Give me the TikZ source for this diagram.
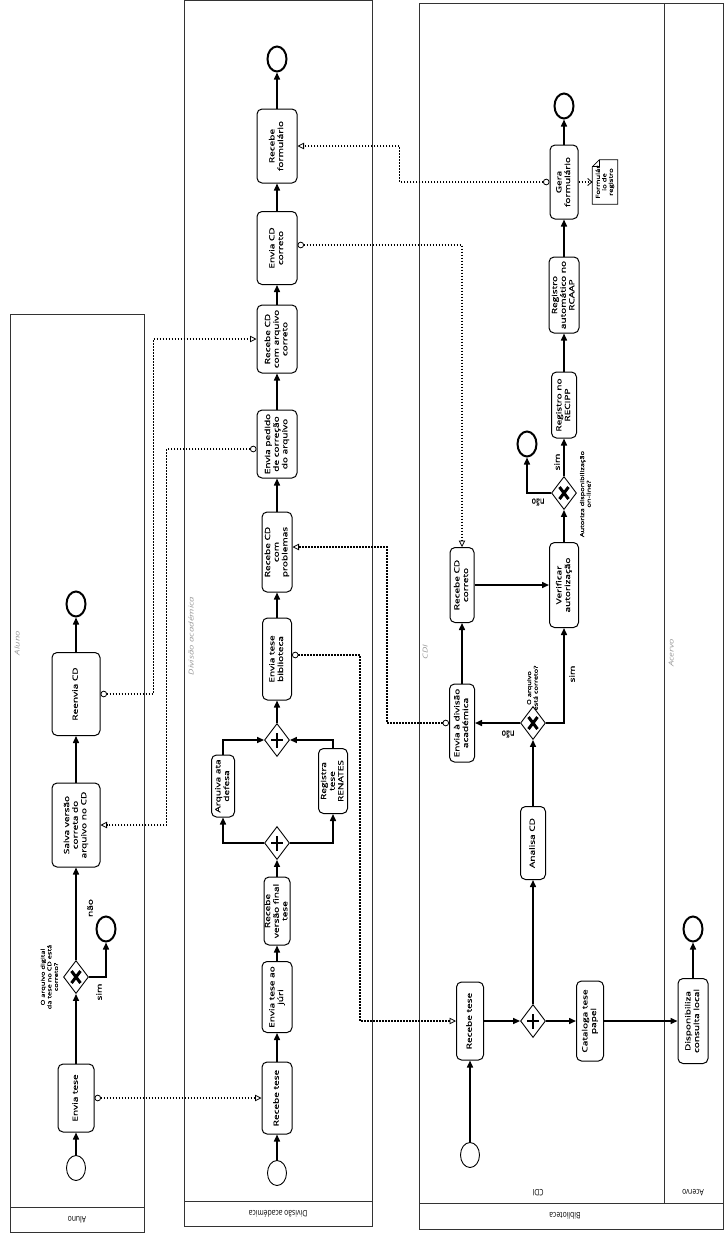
\documentclass[tikz,border=0pt]{standalone}
\usepackage{fontspec}
\setmainfont{Open Sans}
\newfontfamily\tkf{Open Sans}[FakeBold=0.7]
\usepackage{graphicx}
\usetikzlibrary{arrows.meta,shapes.geometric,calc}

\newcommand\tx[1]{\rotatebox{90}{\scalebox{1.4}[1]{\begin{tabular}{@{}c@{}}#1\end{tabular}}}}
\newcommand\ud[1]{\rotatebox{180}{\scalebox{1}[1.3]{#1}}}
\newcommand\gwx[1]{\draw[line width=3pt] ([shift={(-4.5pt,-6pt)}]#1.center) -- ([shift={(4.5pt,6pt)}]#1.center) ([shift={(-4.5pt,6pt)}]#1.center) -- ([shift={(4.5pt,-6pt)}]#1.center);}
\newcommand\gwp[1]{\draw[line width=2.5pt] ([xshift=-6pt]#1.center) -- ([xshift=6pt]#1.center) ([yshift=-7.5pt]#1.center) -- ([yshift=7.5pt]#1.center);}

\tikzset{
 task/.style={draw, line width=1pt, rounded corners=5pt, inner sep=0pt, fill=white, font=\tkf\fontsize{7.2}{8.6}\selectfont},
 tsk/.style 2 args={task, minimum width=#1pt, minimum height=#2pt},
 gw/.style={draw, diamond, line width=0.9pt, minimum width=25pt, minimum height=33pt, inner sep=0pt, fill=white},
 sev/.style={draw, ellipse, line width=0.9pt, minimum width=19pt, minimum height=25pt, inner sep=0pt, fill=white},
 eev/.style={sev, line width=2pt},
 seq/.style={line width=1.5pt, -{Triangle[length=7pt,width=6pt]}},
 msg/.style={line width=1.5pt, dash pattern=on 1.5pt off 1.5pt, {Circle[length=6.5pt,width=6.5pt,fill=white,line width=0.8pt]}-{Triangle[open,length=6.5pt,width=6.5pt,line width=0.8pt]}},
 assoc/.style={line width=1.5pt, dash pattern=on 1.5pt off 1.5pt, -{Straight Barb[length=4pt,width=7pt,line width=0.8pt]}},
 lbl/.style={font=\tkf\fontsize{7.2}{8.6}\selectfont, inner sep=0pt},
 glbl/.style={font=\tkf\fontsize{5.3}{6.6}\selectfont, inner sep=0pt},
 pool/.style={draw=black!80, line width=0.8pt},
 plbl/.style={font=\fontsize{6.8}{8}\selectfont, inner sep=0pt},
 ghost/.style={font=\fontsize{6.8}{8}\selectfont\itshape, text=black!40, inner sep=0pt},
}

\begin{document}
\begin{tikzpicture}[x=1pt,y=-1pt]
\useasboundingbox (0,0) rectangle (724,1235);
\fill[white] (0,0) rectangle (724,1235);

% pools
\draw[pool] (10,314) rectangle (144,1232);
\draw[pool] (10,1207) -- (144,1207);
\draw[pool] (184,0.5) rectangle (372,1226);
\draw[pool] (184,1201) -- (372,1201);
\draw[pool] (419,3) rectangle (723,1229);
\draw[pool] (419,1203) -- (723,1203);
\draw[pool] (664,3) -- (664,1203);

\node[plbl] (pl1) at (77,1220) {\ud{Aluno}};
\node[plbl] (pl2) at (278,1214) {\ud{Divisão académica}};
\node[plbl] (pl3) at (565,1216) {\ud{Biblioteca}};
\node[plbl] (pl4) at (538,1193) {\ud{CDI}};
\node[plbl] (pl5) at (693,1193) {\ud{Acervo}};

\node[ghost] (g1) at (18,643) {\tx{Aluno}};
\node[ghost] (g2) at (192,636) {\tx{Divisão académica}};
\node[ghost] (g3) at (426,652) {\tx{CDI}};
\node[ghost] (g4) at (672,653) {\tx{Acervo}};

% ---- Aluno
\node[sev] (as) at (76,1168) {};
\node[tsk={36}{68}] (at1) at (76,1098) {\tx{Envia tese}};
\node[gw] (ag1) at (76,977) {}; \gwx{ag1}
\node[eev] (ae1) at (106,929) {};
\node[tsk={48}{84}] (at2) at (76,825) {\tx{Salva versão\\correta do\\arquivo no CD}};
\node[tsk={48}{83}] (at3) at (76,694) {\tx{Reenvia CD}};
\node[eev] (ae2) at (76,604) {};
\node[glbl] (agl) at (50,977) {\tx{O arquivo digital\\da tese no CD está\\correto?}};

% ---- Divisao academica
\node[sev] (ds) at (277,1173) {};
\node[tsk={30}{72}] (dt1) at (277,1098) {\tx{Recebe tese}};
\node[tsk={30}{71}] (dt2) at (277,997) {\tx{Envia tese ao\\júri}};
\node[tsk={26}{68}] (dt3) at (277,911) {\tx{Recebe\\versão final\\tese}};
\node[gw] (dg1) at (277,843) {}; \gwp{dg1}
\node[tsk={23}{62}] (dt4) at (223,786) {\tx{Arquiva ata\\defesa}};
\node[tsk={29}{65}] (dt5) at (333,781) {\tx{Registra\\tese\\RENATES}};
\node[gw] (dg2) at (277,740) {}; \gwp{dg2}
\node[tsk={29}{82}] (dt6) at (277,659) {\tx{Envia tese\\biblioteca}};
\node[tsk={30}{80}] (dt7) at (277,552) {\tx{Recebe CD\\com\\problemas}};
\node[tsk={40}{68}] (dt8) at (277,444) {\tx{Envia pedido\\de correção\\do arquivo}};
\node[tsk={40}{68}] (dt9) at (277,339) {\tx{Recebe CD\\com arquivo\\correto}};
\node[tsk={40}{73}] (dt10) at (277,248) {\tx{Envia CD\\correto}};
\node[tsk={40}{74}] (dt11) at (277,146) {\tx{Recebe\\formulário}};
\node[eev] (de) at (277,59) {};

% ---- Biblioteca
\node[sev] (cs) at (470,1155) {};
\node[tsk={27}{78}] (ct1) at (470,1021) {\tx{Recebe tese}};
\node[gw] (cg1) at (533,1021) {}; \gwp{cg1}
\node[tsk={25}{73}] (ct2) at (533,843) {\tx{Analisa CD}};
\node[tsk={27}{80}] (ct3) at (590,1021) {\tx{Cataloga tese\\papel}};
\node[tsk={30}{85}] (ct4) at (693,1021) {\tx{Disponibiliza\\consulta local}};
\node[eev] (ce1) at (693,929) {};
\node[gw] (cg2) at (533,723) {}; \gwx{cg2}
\node[glbl] (cgl2) at (533,688) {\tx{O arquivo\\está correto?}};
\node[tsk={25}{78}] (ct5) at (462,723) {\tx{Envia à divisão\\académica}};
\node[tsk={24}{75}] (ct6) at (462,585) {\tx{Recebe CD\\correto}};
\node[tsk={29}{85}] (ct7) at (564,585) {\tx{Verificar\\autorização}};
\node[gw] (cg3) at (564,493) {}; \gwx{cg3}
\node[glbl] (cgl3) at (586,494) {\tx{Autoriza disponibilização\\on-line?}};
\node[eev] (ce2) at (527,444) {};
\node[tsk={25}{66}] (ct8) at (564,405) {\tx{Registro no\\RECIPP}};
\node[tsk={30}{76}] (ct9) at (564,295) {\tx{Registro\\automático no\\RCAAP}};
\node[tsk={28}{74}] (ct10) at (564,182) {\tx{Gera\\formulário}};
\node[eev] (ce3) at (564,106) {};
\node[minimum width=25pt, minimum height=44pt, inner sep=0pt, font=\tkf\fontsize{5.5}{6.5}\selectfont] (data) at (605,182) {\tx{Formulár\\io de\\registro}};
\draw[line width=0.8pt] ([xshift=7pt]data.north west) -- (data.north east) -- (data.south east) -- (data.south west) -- ([yshift=-7pt]data.north west) -- cycle;
\draw[line width=0.8pt] ([xshift=7pt]data.north west) -- ([xshift=7pt,yshift=-7pt]data.north west) -- ([yshift=-7pt]data.north west);

% ---- sequence flows
\draw[seq] (as) -- (at1);
\draw[seq] (at1) -- (ag1);
\draw[seq] (ag1) -- (at2);
\draw[seq] (ag1.east) -| (ae1.south);
\draw[seq] (at2) -- (at3);
\draw[seq] (at3) -- (ae2);
\node[lbl] (lna) at (91,908) {\tx{não}};
\node[lbl] (lsa) at (100,992) {\tx{sim}};

\draw[seq] (ds) -- (dt1);
\draw[seq] (dt1) -- (dt2);
\draw[seq] (dt2) -- (dt3);
\draw[seq] (dt3) -- (dg1);
\draw[seq] (dg1.west) -| (dt4.south);
\draw[seq] (dg1.east) -| (dt5.south);
\draw[seq] (dt4.north) |- (dg2.west);
\draw[seq] (dt5.north) |- (dg2.east);
\draw[seq] (dg2) -- (dt6);
\draw[seq] (dt6) -- (dt7);
\draw[seq] (dt7) -- (dt8);
\draw[seq] (dt8) -- (dt9);
\draw[seq] (dt9) -- (dt10);
\draw[seq] (dt10) -- (dt11);
\draw[seq] (dt11) -- (de);

\draw[seq] (cs) -- (ct1);
\draw[seq] (ct1) -- (cg1);
\draw[seq] (cg1) -- (ct2);
\draw[seq] (cg1) -- (ct3);
\draw[seq] (ct3) -- (ct4);
\draw[seq] (ct4) -- (ce1);
\draw[seq] (ct2) -- (cg2);
\draw[seq] (cg2) -- (ct5);
\draw[seq] (cg2.east) -| (ct7.south);
\draw[seq] (ct5) -- (ct6);
\draw[seq] (ct6) -- (ct7);
\draw[seq] (ct7) -- (cg3);
\draw[seq] (cg3) -- (ct8);
\draw[seq] (cg3.west) -| (ce2.south);
\draw[seq] (ct8) -- (ct9);
\draw[seq] (ct9) -- (ct10);
\draw[seq] (ct10) -- (ce3);
\node[lbl] (lnc1) at (508,734) {\ud{não}};
\node[lbl] (lsc1) at (573,674) {\tx{sim}};
\node[lbl] (lsc2) at (558,462) {\tx{sim}};
\node[lbl] (lnc2) at (538,502) {\ud{não}};

% ---- message flows
\draw[msg] (at1.east) -- (dt1.west);
\draw[msg] ([yshift=4pt]dt6.east) -- ++(68,0) |- (ct1.west);
\draw[msg] (ct5.west) -- ++(-62,0) |- ([yshift=5pt]dt7.east);
\draw[msg] ([yshift=-5pt]dt8.west) -- ++(-90,0) |- (at2.east);
\draw[msg] (at3.east) -- ++(53,0) |- (dt9.west);
\draw[msg] ([yshift=3pt]dt10.east) -| (ct6.north);
\draw[msg] (ct10.west) -- ++(-150,0) |- (dt11.east);
\draw[assoc] (ct10.east) -- (data.west);
\end{tikzpicture}
\end{document}
